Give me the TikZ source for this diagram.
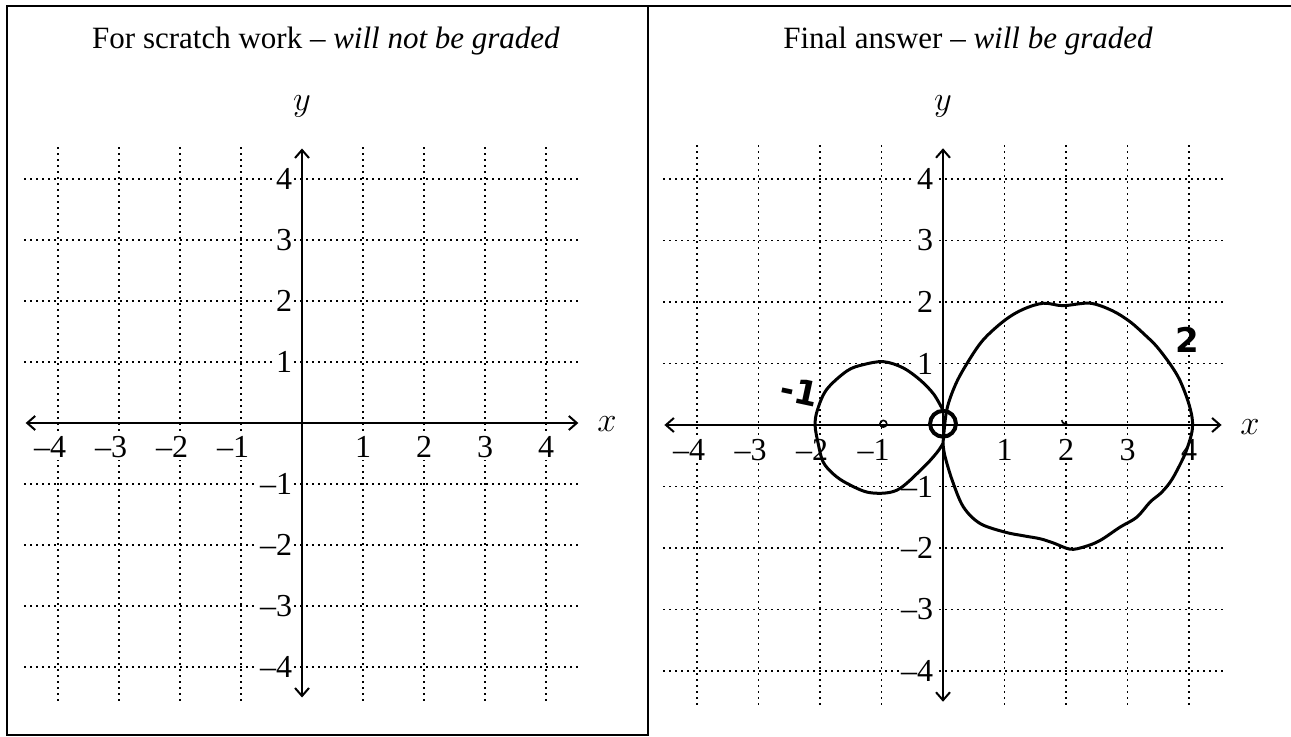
\documentclass[tikz,border=0pt]{standalone}
\usepackage{fontspec}
\setmainfont{Liberation Serif}
\newfontfamily\handfont{DejaVu Sans}
\usetikzlibrary{arrows.meta}
\tikzset{
  gridline/.style={line width=0.8pt, dash pattern=on 0.8pt off 2.2pt},
  axisline/.style={line width=1pt, {Straight Barb[length=4pt,width=7pt,line width=1pt]}-{Straight Barb[length=4pt,width=7pt,line width=1pt]}},
  ticklbl/.style={font=\fontsize{16}{18}\selectfont, fill=white, inner sep=0.8pt},
  titlelbl/.style={font=\fontsize{15.5}{18}\selectfont, inner sep=0pt},
  axislbl/.style={font=\fontsize{18}{20}\selectfont, inner sep=0pt},
  framebox/.style={line width=1pt},
  curveline/.style={line width=1.5pt, line join=round, line cap=round},
  handlbl/.style={font=\fontsize{17}{20}\selectfont\handfont\bfseries, inner sep=0pt},
  axesgrid/.pic={
    \foreach \k in {-4,-3,-2,-1,1,2,3,4} {
      \draw[gridline] (\k,-4.55) -- (\k,4.55);
      \draw[gridline] (-4.55,\k) -- (4.55,\k);
    }
    \foreach \k in {1,2,3,4} {
      \node[ticklbl] (xp\k) at (\k,-0.4) {\k};
      \node[ticklbl] (xn\k) at (-\k,-0.4) {\llap{–}\k};
      \node[ticklbl, anchor=east] (yp\k) at (-0.13,\k) {\k};
      \node[ticklbl, anchor=east] (yn\k) at (-0.13,-\k) {–\k};
    }
    \coordinate (xl) at (-4.53,0);
    \coordinate (xr) at (4.53,0);
    \coordinate (yb) at (0,-4.5);
    \coordinate (yt) at (0,4.5);
    \draw[axisline] (xl) -- (xr);
    \draw[axisline] (yb) -- (yt);
  }
}
\begin{document}
\begin{tikzpicture}[x=0.5pt,y=-0.5pt]
\useasboundingbox (0,0) rectangle (1291,737);
% frame
\coordinate (f1) at (7,6);
\coordinate (f2) at (648,6);
\coordinate (f3) at (1291,6);
\coordinate (f4) at (648,735);
\coordinate (f5) at (7,735);
\draw[framebox] (f3) -- (f1) -- (f5) -- (f4) -- (f2);
% titles
\node[titlelbl] (t1) at (326,41) {For scratch work – \textit{will not be graded}};
\node[titlelbl] (t2) at (968,41) {Final answer – \textit{will be graded}};
% axis names
\node[axislbl] (ly1) at (302,106) {$y$};
\node[axislbl] (lx1) at (607,424) {$x$};
\node[axislbl] (ly2) at (943,106) {$y$};
\node[axislbl] (lx2) at (1250,427) {$x$};
% left panel
\begin{scope}[shift={(302,423)}, x=30.5pt, y=30.5pt]
  \pic (L) at (0,0) {axesgrid};
\end{scope}
% right panel
\begin{scope}[shift={(943,425)}, x=30.75pt, y=30.75pt]
  \pic (R) at (0,0) {axesgrid};
  \draw[curveline] plot[smooth, tension=0.55] coordinates {
    (0,-0.3) (0.06,0.24) (0.2,0.65) (0.39,1.0) (0.65,1.38) (1.0,1.7) (1.3,1.88)
    (1.63,1.98) (1.95,1.94) (2.39,1.98) (2.75,1.86) (3.04,1.68) (3.3,1.45)
    (3.48,1.27) (3.7,0.98) (3.85,0.73) (3.98,0.4) (4.05,0.12) (4.05,-0.1)
    (3.98,-0.35) (3.9,-0.55) (3.72,-0.89) (3.55,-1.1) (3.37,-1.25) (3.15,-1.5)
    (2.88,-1.66) (2.55,-1.88) (2.3,-1.98) (2.07,-2.02) (1.8,-1.92) (1.58,-1.85)
    (1.3,-1.8) (1.0,-1.74) (0.6,-1.6) (0.33,-1.33) (0.15,-0.9) (0.03,-0.5) (0,-0.3)};
  \draw[curveline] plot[smooth, tension=0.55] coordinates {
    (0,0.24) (-0.15,0.5) (-0.37,0.73) (-0.65,0.93) (-0.97,1.03) (-1.3,0.98)
    (-1.56,0.88) (-1.89,0.58) (-2.04,0.25) (-2.08,0) (-2.03,-0.3) (-1.95,-0.6)
    (-1.78,-0.8) (-1.56,-0.95) (-1.19,-1.1) (-0.75,-1.06) (-0.33,-0.7)
    (-0.1,-0.45) (0,-0.3)};
  \draw[line width=2pt] (0,0.02) circle[radius=0.21];
  \draw[line width=0.8pt] (-0.97,0.02) circle[radius=0.055];
  \draw[line width=0.8pt] (1.93,0.08) arc[start angle=180, end angle=300, radius=0.06];
  \node[handlbl, rotate=-12] (h1) at (-2.33,0.55) {-1};
  \node[handlbl] (h2) at (3.97,1.38) {2};
\end{scope}
\end{tikzpicture}
\end{document}
